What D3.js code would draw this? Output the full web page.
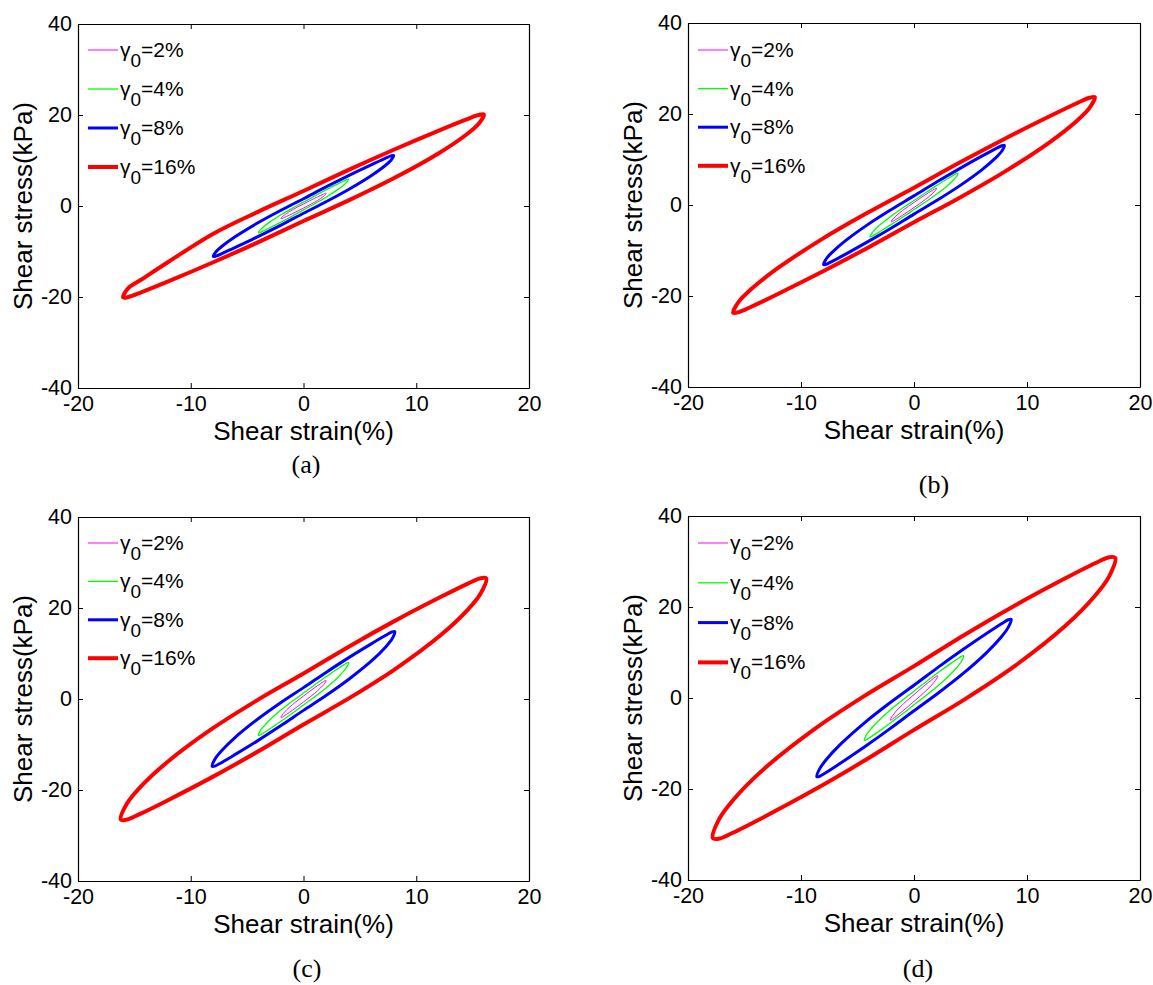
<!DOCTYPE html>
<html>
<head>
<meta charset="utf-8">
<script src="https://cdn.jsdelivr.net/npm/d3@7"></script>
<style>
  body { margin: 0; background: #fff; }
  svg text { font-family: "Liberation Sans", Arial, sans-serif; fill: #000; }
</style>
</head>
<body>
<svg id="fig" width="1153" height="985"></svg>
<script>
// Axis ticks shared by all four panels
const xTicks = [-20, -10, 0, 10, 20];
const yTicks = [-40, -20, 0, 20, 40];

// Strain amplitudes in the legend
const amplitudes = ["2%", "4%", "8%", "16%"];

// Hysteresis loops. For every loop: strain samples (%), stress on the
// loading (upper) branch and on the unloading (lower) branch (kPa).
// Panel (a)
const a2_strain  = [-2, -1.94, -1.8, -1.5, -1, -0.5, 0, 0.5, 1, 1.5, 1.8, 1.94, 2];
const a2_up      = [-2.8, -2.52, -2.18, -1.63, -0.86, -0.18, 0.45, 1.1, 1.72, 2.3, 2.64, 2.79, 2.8];
const a2_down    = [-2.8, -2.79, -2.64, -2.3, -1.72, -1.1, -0.45, 0.18, 0.86, 1.63, 2.18, 2.52, 2.8];
const a4_strain  = [-4, -3.88, -3.6, -3, -2, -1, 0, 1, 2, 3, 3.6, 3.88, 4];
const a4_up      = [-5.9, -5.34, -4.67, -3.54, -1.93, -0.5, 0.85, 2.23, 3.55, 4.81, 5.54, 5.85, 5.9];
const a4_down    = [-5.9, -5.85, -5.54, -4.81, -3.55, -2.23, -0.85, 0.5, 1.93, 3.54, 4.67, 5.34, 5.9];
const a8_strain  = [-8, -7.76, -7.2, -6, -4, -2, 0, 2, 4, 6, 7.2, 7.76, 8];
const a8_up      = [-11.1, -10.05, -8.79, -6.65, -3.63, -0.94, 1.6, 4.19, 6.67, 9.05, 10.42, 11.01, 11.1];
const a8_down    = [-11.1, -11.01, -10.42, -9.05, -6.67, -4.19, -1.6, 0.94, 3.63, 6.65, 8.79, 10.05, 11.1];
const a16_strain = [-16, -15.52, -14.4, -12, -8, -4, 0, 4, 8, 12, 14.4, 15.52, 16];
const a16_up     = [-20.1, -18.01, -16.2, -12.3, -6.09, -1.23, 3.3, 7.93, 12.36, 16.57, 18.98, 20.0, 20.1];
const a16_down   = [-20.1, -20.0, -18.98, -16.57, -12.36, -7.93, -3.3, 1.23, 6.09, 11.61, 15.61, 18.01, 20.1];
// Panel (b)
const b2_strain  = [-2, -1.94, -1.8, -1.5, -1, -0.5, 0, 0.5, 1, 1.5, 1.8, 1.94, 2];
const b2_up      = [-3.7, -3.34, -2.92, -2.2, -1.19, -0.3, 0.55, 1.41, 2.24, 3.03, 3.48, 3.67, 3.7];
const b2_down    = [-3.7, -3.67, -3.48, -3.03, -2.24, -1.41, -0.55, 0.3, 1.19, 2.2, 2.92, 3.34, 3.7];
const b4_strain  = [-3.9, -3.78, -3.51, -2.93, -1.95, -0.98, 0, 0.98, 1.95, 2.93, 3.51, 3.78, 3.9];
const b4_up      = [-7, -6.34, -5.55, -4.2, -2.3, -0.6, 1, 2.63, 4.2, 5.7, 6.57, 6.94, 7];
const b4_down    = [-7, -6.94, -6.57, -5.7, -4.2, -2.63, -1, 0.6, 2.3, 4.2, 5.55, 6.34, 7];
const b8_strain  = [-8, -7.76, -7.2, -6, -4, -2, 0, 2, 4, 6, 7.2, 7.76, 8];
const b8_up      = [-13.1, -11.81, -10.29, -7.73, -4.15, -0.98, 2, 5.04, 7.95, 10.73, 12.33, 13.01, 13.1];
const b8_down    = [-13.1, -13.01, -12.33, -10.73, -7.95, -5.04, -2, 0.98, 4.15, 7.73, 10.29, 11.81, 13.1];
const b16_strain = [-16, -15.52, -14.4, -12, -8, -4, 0, 4, 8, 12, 14.4, 15.52, 16];
const b16_up     = [-23.7, -21.28, -18.48, -13.79, -7.29, -1.56, 3.8, 9.27, 14.51, 19.49, 22.36, 23.56, 23.7];
const b16_down   = [-23.7, -23.56, -22.36, -19.49, -14.51, -9.27, -3.8, 1.56, 7.29, 13.79, 18.48, 21.28, 23.7];
// Panel (c)
const c2_strain  = [-2, -1.94, -1.8, -1.5, -1, -0.5, 0, 0.5, 1, 1.5, 1.8, 1.94, 2];
const c2_up      = [-4.1, -3.69, -3.2, -2.4, -1.27, -0.28, 0.65, 1.6, 2.51, 3.37, 3.87, 4.08, 4.1];
const c2_down    = [-4.1, -4.08, -3.87, -3.37, -2.51, -1.6, -0.65, 0.28, 1.27, 2.4, 3.2, 3.69, 4.1];
const c4_strain  = [-4, -3.88, -3.6, -3, -2, -1, 0, 1, 2, 3, 3.6, 3.88, 4];
const c4_up      = [-8, -7.17, -6.22, -4.63, -2.44, -0.5, 1.3, 3.14, 4.91, 6.59, 7.55, 7.96, 8];
const c4_down    = [-8, -7.96, -7.55, -6.59, -4.91, -3.14, -1.3, 0.5, 2.44, 4.63, 6.22, 7.17, 8];
const c8_strain  = [-8.1, -7.86, -7.29, -6.08, -4.05, -2.03, 0, 2.03, 4.05, 6.08, 7.29, 7.86, 8.1];
const c8_up      = [-14.8, -13.23, -11.44, -8.47, -4.4, -0.82, 2.5, 5.9, 9.15, 12.23, 14, 14.74, 14.8];
const c8_down    = [-14.8, -14.74, -14, -12.23, -9.15, -5.9, -2.5, 0.82, 4.4, 8.47, 11.44, 13.23, 14.8];
const c16_strain = [-16.2, -15.71, -14.58, -12.15, -8.1, -4.05, 0, 4.05, 8.1, 12.15, 14.58, 15.71, 16.2];
const c16_up     = [-26.5, -23.19, -19.65, -14, -6.53, -0.19, 5.6, 11.56, 17.17, 22.4, 25.36, 26.55, 26.5];
const c16_down   = [-26.5, -26.55, -25.36, -22.4, -17.17, -11.56, -5.6, 0.19, 6.53, 14, 19.65, 23.19, 26.5];
// Panel (d)
const d2_strain  = [-2.1, -2.04, -1.89, -1.58, -1.05, -0.53, 0, 0.53, 1.05, 1.58, 1.89, 2.04, 2.1];
const d2_up      = [-4.9, -4.41, -3.85, -2.89, -1.55, -0.37, 0.75, 1.89, 2.98, 4.02, 4.61, 4.86, 4.9];
const d2_down    = [-4.9, -4.86, -4.61, -4.02, -2.98, -1.89, -0.75, 0.37, 1.55, 2.89, 3.85, 4.41, 4.9];
const d4_strain  = [-4.4, -4.27, -3.96, -3.3, -2.2, -1.1, 0, 1.1, 2.2, 3.3, 3.96, 4.27, 4.4];
const d4_up      = [-9.3, -8.34, -7.24, -5.4, -2.85, -0.6, 1.5, 3.65, 5.7, 7.66, 8.78, 9.25, 9.3];
const d4_down    = [-9.3, -9.25, -8.78, -7.66, -5.7, -3.65, -1.5, 0.6, 2.85, 5.4, 7.24, 8.34, 9.3];
const d8_strain  = [-8.6, -8.34, -7.74, -6.45, -4.3, -2.15, 0, 2.15, 4.3, 6.45, 7.74, 8.34, 8.6];
const d8_up      = [-17.3, -15.52, -13.47, -10.04, -5.29, -1.11, 2.8, 6.79, 10.61, 14.24, 16.33, 17.2, 17.3];
const d8_down    = [-17.3, -17.2, -16.33, -14.24, -10.61, -6.79, -2.8, 1.11, 5.29, 10.04, 13.47, 15.52, 17.3];
const d16_strain = [-17.8, -17.27, -16.02, -13.35, -8.9, -4.45, 0, 4.45, 8.9, 13.35, 16.02, 17.27, 17.8];
const d16_up     = [-30.8, -26.73, -22.47, -15.75, -7, 0.35, 7, 13.86, 20.3, 26.25, 29.61, 30.93, 30.8];
const d16_down   = [-30.8, -30.93, -29.61, -26.25, -20.3, -13.86, -7, -0.35, 7, 15.75, 22.47, 26.73, 30.8];

const panelLoops = {
  a: [[a2_strain, a2_up, a2_down], [a4_strain, a4_up, a4_down], [a8_strain, a8_up, a8_down], [a16_strain, a16_up, a16_down]],
  b: [[b2_strain, b2_up, b2_down], [b4_strain, b4_up, b4_down], [b8_strain, b8_up, b8_down], [b16_strain, b16_up, b16_down]],
  c: [[c2_strain, c2_up, c2_down], [c4_strain, c4_up, c4_down], [c8_strain, c8_up, c8_down], [c16_strain, c16_up, c16_down]],
  d: [[d2_strain, d2_up, d2_down], [d4_strain, d4_up, d4_down], [d8_strain, d8_up, d8_down], [d16_strain, d16_up, d16_down]]
};

// Closed loop: loading branch left to right, unloading branch back (tips shared)
function loopPoints([strain, up, down]) {
  const pts = strain.map((s, i) => [s, up[i]]);
  for (let i = strain.length - 2; i >= 1; i--) pts.push([strain[i], down[i]]);
  return pts;
}

// Styling per amplitude
const seriesColors = ["#ff00ff", "#00ff00", "#0000ff", "#ff0000"];
const seriesWidths = [1, 1.3, 3, 4];

// Panel frames in page pixels
const layout = [
  { id: "a", left: 78,  right: 529,  top: 24,  bottom: 388, legendTop: 50,  legendStep: 39,   capX: 306, capY: 473 },
  { id: "b", left: 688, right: 1140, top: 23,  bottom: 387, legendTop: 50,  legendStep: 38.6, capX: 934, capY: 493 },
  { id: "c", left: 78,  right: 529,  top: 517, bottom: 881, legendTop: 543, legendStep: 38.4, capX: 307, capY: 977 },
  { id: "d", left: 688, right: 1140, top: 516, bottom: 880, legendTop: 543, legendStep: 39.8, capX: 918, capY: 977 }
];

const tickFont = 21.5, titleFont = 26, legendFont = 21;
const svg = d3.select("#fig");
const fmt = d => String(d);

layout.forEach(p => {
  const x = d3.scaleLinear().domain([-20, 20]).range([p.left, p.right]);
  const y = d3.scaleLinear().domain([-40, 40]).range([p.bottom, p.top]);
  const g = svg.append("g").attr("class", "panel-" + p.id);

  // Loops
  const line = d3.line()
    .x(d => x(d[0])).y(d => y(d[1]))
    .curve(d3.curveCatmullRomClosed.alpha(0.5));
  panelLoops[p.id].forEach((loop, i) => {
    g.append("path")
      .attr("d", line(loopPoints(loop)))
      .attr("fill", "none")
      .attr("stroke", seriesColors[i])
      .attr("stroke-width", seriesWidths[i])
      .attr("stroke-linejoin", "round");
  });

  // Box axes with inward ticks on all four sides
  const styleAxis = sel => {
    sel.attr("font-family", null).attr("font-size", null);
    sel.selectAll("path.domain").attr("stroke", "#000").attr("stroke-width", 1.2);
    sel.selectAll(".tick line").attr("stroke", "#000");
    sel.selectAll(".tick text").style("font-size", tickFont + "px");
  };
  g.append("g").attr("transform", `translate(0,${p.bottom})`)
    .call(d3.axisBottom(x).tickValues(xTicks).tickSizeInner(-5).tickSizeOuter(0).tickPadding(8).tickFormat(fmt))
    .call(styleAxis);
  g.append("g").attr("transform", `translate(0,${p.top})`)
    .call(d3.axisTop(x).tickValues(xTicks).tickSizeInner(-5).tickSizeOuter(0).tickFormat(""))
    .call(styleAxis);
  g.append("g").attr("transform", `translate(${p.left},0)`)
    .call(d3.axisLeft(y).tickValues(yTicks).tickSizeInner(-5).tickSizeOuter(0).tickPadding(6).tickFormat(fmt))
    .call(styleAxis);
  g.append("g").attr("transform", `translate(${p.right},0)`)
    .call(d3.axisRight(y).tickValues(yTicks).tickSizeInner(-5).tickSizeOuter(0).tickFormat(""))
    .call(styleAxis);

  // Axis titles
  g.append("text")
    .attr("x", (p.left + p.right) / 2).attr("y", p.bottom + 52)
    .attr("text-anchor", "middle").style("font-size", titleFont + "px")
    .text("Shear strain(%)");
  g.append("text")
    .attr("transform", `translate(${p.left - 46},${(p.top + p.bottom) / 2}) rotate(-90)`)
    .attr("text-anchor", "middle").style("font-size", titleFont + "px")
    .text("Shear stress(kPa)");

  // Legend
  amplitudes.forEach((amp, i) => {
    const ly = p.legendTop + i * p.legendStep;
    g.append("line")
      .attr("x1", p.left + 10).attr("x2", p.left + 40)
      .attr("y1", ly).attr("y2", ly)
      .attr("stroke", seriesColors[i]).attr("stroke-width", seriesWidths[i]);
    const t = g.append("text")
      .attr("x", p.left + 42).attr("y", ly + 7)
      .style("font-size", legendFont + "px");
    t.append("tspan").text("γ");
    t.append("tspan").attr("dy", 10).style("font-size", (legendFont - 2) + "px").text("0");
    t.append("tspan").attr("dy", -10).text("=" + amp);
  });

  // Sub-figure caption
  g.append("text")
    .attr("x", p.capX).attr("y", p.capY)
    .attr("text-anchor", "middle")
    .style("font-family", "'Liberation Serif', 'Times New Roman', serif")
    .style("font-size", "26px")
    .text("(" + p.id + ")");
});
</script>
</body>
</html>
